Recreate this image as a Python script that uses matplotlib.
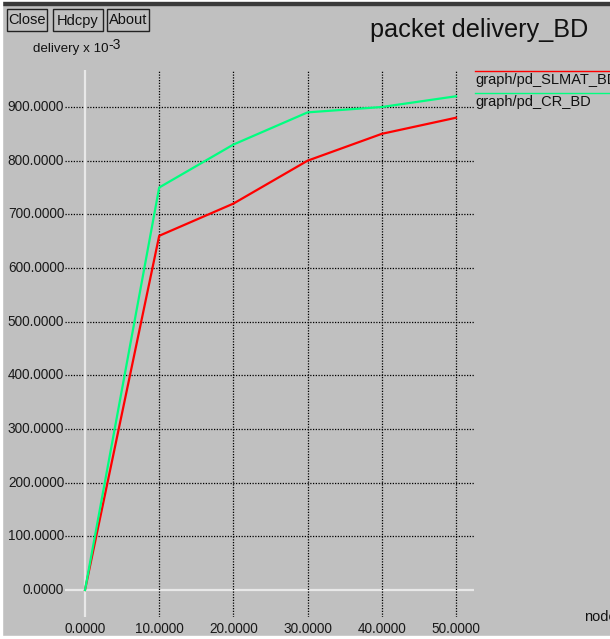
import matplotlib
matplotlib.use("Agg")
import matplotlib.pyplot as plt
from matplotlib.patches import Rectangle

# ---- data ----
nodes = [0, 10, 20, 30, 40, 50]
pd_slmat_bd = [0, 660, 720, 800, 850, 880]
pd_cr_bd = [0, 750, 830, 890, 900, 920]
x_ticks = [0, 10, 20, 30, 40, 50]
y_ticks = [0, 100, 200, 300, 400, 500, 600, 700, 800, 900]
series_names = ["graph/pd_SLMAT_BD", "graph/pd_CR_BD"]
series_colors = ["#ff0000", "#00ff80"]

W, H = 610, 639
DPI = 100
BG = "#c0c0c0"
fig = plt.figure(figsize=(W / DPI, H / DPI), dpi=DPI, facecolor=BG)

def fx(px):
    return px / W

def fy(py):
    return 1 - py / H

# borders
fig.patches.append(Rectangle((0, fy(2)), 1, 2 / H, transform=fig.transFigure, color="white", zorder=0))
fig.patches.append(Rectangle((0, fy(5)), 1, 3 / H, transform=fig.transFigure, color="#3a3a3a", zorder=0))
fig.patches.append(Rectangle((0, 0), 2 / W, 1, transform=fig.transFigure, color="white", zorder=0))
fig.patches.append(Rectangle((0, 0), 1, 3 / H, transform=fig.transFigure, color="white", zorder=0))

# axes area in pixels
L, R, T, B = 65, 474, 70, 617
ax = fig.add_axes([fx(L), fy(B), (R - L) / W, (B - T) / H])
ax.set_facecolor(BG)
for s in ax.spines.values():
    s.set_visible(False)
ax.set_xticks([])
ax.set_yticks([])

# pixel mapping: x=0 -> 85, x=50 -> 456 ; y=0 -> 590, y=900 -> 107
px_per_x = (456 - 85) / 50
px_per_y = (590 - 107) / 900
xmin = (L - 85) / px_per_x
xmax = (R - 85) / px_per_x
ymin = -(B - 590) / px_per_y
ymax = (590 - T) / px_per_y
ax.set_xlim(xmin, xmax)
ax.set_ylim(ymin, ymax)

# grid
for yv in y_ticks:
    if yv == 0:
        ax.axhline(yv, color="#e8e8e8", lw=1.6, zorder=1)
    else:
        ax.axhline(yv, color="black", lw=0.9, ls=(0, (1, 1.2)), zorder=1)
for xv in x_ticks:
    if xv == 0:
        ax.axvline(xv, color="#e8e8e8", lw=1.6, zorder=1)
    else:
        ax.axvline(xv, color="black", lw=0.9, ls=(0, (1, 1.2)), zorder=1)

ax.plot(nodes, pd_slmat_bd, color=series_colors[0], lw=1.6, zorder=3)
ax.plot(nodes, pd_cr_bd, color=series_colors[1], lw=1.6, zorder=3)

tick_font = dict(family="Liberation Sans", fontsize=9.8, color="#1a1a1a")
for yv in y_ticks:
    ax.text(-0.002, (yv - ymin) / (ymax - ymin), f"{yv:.4f}", transform=ax.transAxes,
            ha="right", va="center", **tick_font)
for xv in x_ticks:
    ax.text(xv, ymin - 5 / px_per_y, f"{xv:.4f}", ha="center", va="top", **tick_font)

# title
fig.text(fx(588), fy(30), "packet delivery_BD", ha="right", va="center",
         family="Liberation Sans", fontsize=18.2, color="#111111")

# buttons
for label, x0, x1 in [("Close", 7, 47), ("Hdcpy", 53, 103), ("About", 107, 149)]:
    fig.patches.append(Rectangle((fx(x0), fy(31)), (x1 - x0) / W, 22 / H, transform=fig.transFigure,
                                 facecolor=BG, edgecolor="#222222", lw=1.0, zorder=1))
    fig.text(fx((x0 + x1) / 2), fy(20.5), label, ha="center", va="center",
             family="Liberation Sans", fontsize=10.5, color="#111111")

# y label
fig.text(fx(33), fy(49), "delivery x 10", ha="left", va="center",
         family="Liberation Sans", fontsize=9.6, color="#111111")
fig.text(fx(108), fy(45), "-3", ha="left", va="center",
         family="Liberation Sans", fontsize=10, color="#111111")

# legend
for i, (name, col) in enumerate(zip(series_names, series_colors)):
    yline = 71 + i * 22
    fig.add_artist(plt.Line2D([fx(475), 1.0], [fy(yline), fy(yline)], transform=fig.transFigure,
                              color=col, lw=1.0))
    fig.text(fx(475), fy(yline + 9), name, ha="left", va="center",
             family="Liberation Sans", fontsize=10.5, color="#111111")

# x label
fig.text(fx(584), fy(617), "nodes", ha="left", va="center",
         family="Liberation Sans", fontsize=10.5, color="#111111")

fig.savefig("out.png", dpi=DPI, facecolor=BG)
